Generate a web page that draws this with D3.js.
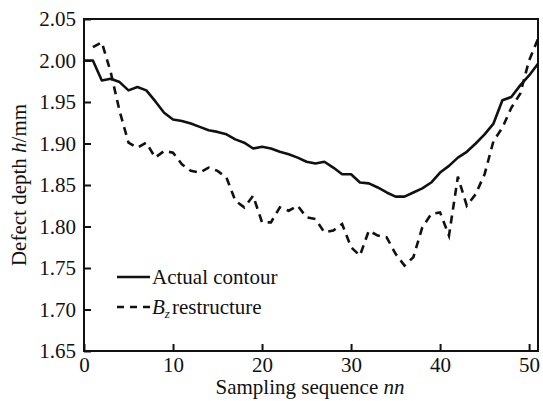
<!DOCTYPE html>
<html>
<head>
<meta charset="utf-8">
<script src="https://cdn.jsdelivr.net/npm/d3@7"></script>
<style>
  body { margin: 0; background: #fff; }
  svg { display: block; }
  text { font-family: "Liberation Serif", "DejaVu Serif", serif; fill: #111; }
</style>
</head>
<body>
<svg id="chart" width="543" height="401"></svg>
<script>
// sampling points 0..51
const actualContour = [
  2.000, 2.000, 1.976, 1.978, 1.974, 1.964, 1.968, 1.964, 1.951, 1.937,
  1.929, 1.927, 1.924, 1.920, 1.916, 1.914, 1.911, 1.905, 1.901, 1.894,
  1.896, 1.894, 1.890, 1.887, 1.883, 1.878, 1.876, 1.878, 1.871, 1.863,
  1.863, 1.853, 1.852, 1.847, 1.841, 1.836, 1.836, 1.841, 1.846, 1.853,
  1.865, 1.873, 1.883, 1.890, 1.900, 1.911, 1.924, 1.952, 1.956, 1.970,
  1.982, 1.996
];
// Bz restructure starts at sample 1
const bzRestructure = [
  null, 2.016, 2.022, 1.986, 1.939, 1.901, 1.895, 1.901, 1.883, 1.891,
  1.889, 1.875, 1.867, 1.865, 1.871, 1.867, 1.859, 1.831, 1.823, 1.837,
  1.805, 1.805, 1.823, 1.819, 1.825, 1.811, 1.809, 1.793, 1.795, 1.803,
  1.775, 1.765, 1.795, 1.789, 1.787, 1.767, 1.753, 1.763, 1.799, 1.815,
  1.817, 1.789, 1.860, 1.825, 1.839, 1.863, 1.903, 1.919, 1.943, 1.960,
  2.000, 2.026
];
const xTicks = [0, 10, 20, 30, 40, 50];
const yTicks = [1.65, 1.70, 1.75, 1.80, 1.85, 1.90, 1.95, 2.00, 2.05];

const svg = d3.select("#chart");
const margin = {left: 84, top: 19, right: 5, bottom: 50};
const W = 543, H = 401;
const FS = 21;
const x = d3.scaleLinear().domain([0, 51]).range([margin.left, W - margin.right]);
const y = d3.scaleLinear().domain([1.65, 2.05]).range([H - margin.bottom, margin.top]);

// frame
svg.append("rect")
  .attr("x", x(0)).attr("y", y(2.05))
  .attr("width", x(51) - x(0)).attr("height", y(1.65) - y(2.05))
  .attr("fill", "none").attr("stroke", "#111").attr("stroke-width", 2);

// axes, ticks inward
const xAxis = svg.append("g").attr("transform", `translate(0,${y(1.65)})`)
  .call(d3.axisBottom(x).tickValues(xTicks).tickSize(-7).tickPadding(6).tickFormat(d3.format("d")));
const yAxis = svg.append("g").attr("transform", `translate(${x(0)},0)`)
  .call(d3.axisLeft(y).tickValues(yTicks).tickSize(-7).tickPadding(8).tickFormat(d3.format(".2f")));
[xAxis, yAxis].forEach(g => {
  g.select(".domain").remove();
  g.selectAll("line").attr("stroke", "#111").attr("stroke-width", 2);
  g.selectAll("text").attr("font-size", FS).attr("font-family", "Liberation Serif").attr("fill", "#111");
});

// lines
const line = d3.line()
  .defined(d => d != null)
  .x((d, i) => x(i)).y(d => y(d));
svg.append("path").datum(actualContour)
  .attr("d", line).attr("fill", "none").attr("stroke", "#111")
  .attr("stroke-width", 2.6).attr("stroke-linejoin", "round");
svg.append("path").datum(bzRestructure)
  .attr("d", line).attr("fill", "none").attr("stroke", "#111")
  .attr("stroke-width", 2.6).attr("stroke-dasharray", "8,6");

// legend
const lg = svg.append("g");
lg.append("line").attr("x1", 117).attr("x2", 150).attr("y1", 277).attr("y2", 277)
  .attr("stroke", "#111").attr("stroke-width", 2.6);
lg.append("text").attr("x", 152).attr("y", 284).attr("font-size", FS).text("Actual contour");
lg.append("line").attr("x1", 117).attr("x2", 150).attr("y1", 307).attr("y2", 307)
  .attr("stroke", "#111").attr("stroke-width", 2.6).attr("stroke-dasharray", "7,6");
const t2 = lg.append("text").attr("x", 152).attr("y", 314).attr("font-size", FS);
t2.append("tspan").attr("font-style", "italic").text("B");
t2.append("tspan").attr("font-style", "italic").attr("font-size", 13).attr("dy", 4).text("z");
t2.append("tspan").attr("dy", -4).attr("dx", 2).text("restructure");

// axis titles
const xt = svg.append("text").attr("x", 310).attr("y", 394).attr("text-anchor", "middle").attr("font-size", FS);
xt.append("tspan").text("Sampling sequence ");
xt.append("tspan").attr("font-style", "italic").text("nn");
const yt = svg.append("text").attr("transform", `translate(26,${(y(1.65) + y(2.05)) / 2}) rotate(-90)`)
  .attr("text-anchor", "middle").attr("font-size", FS);
yt.append("tspan").text("Defect depth ");
yt.append("tspan").attr("font-style", "italic").text("h");
yt.append("tspan").text("/mm");
</script>
</body>
</html>
